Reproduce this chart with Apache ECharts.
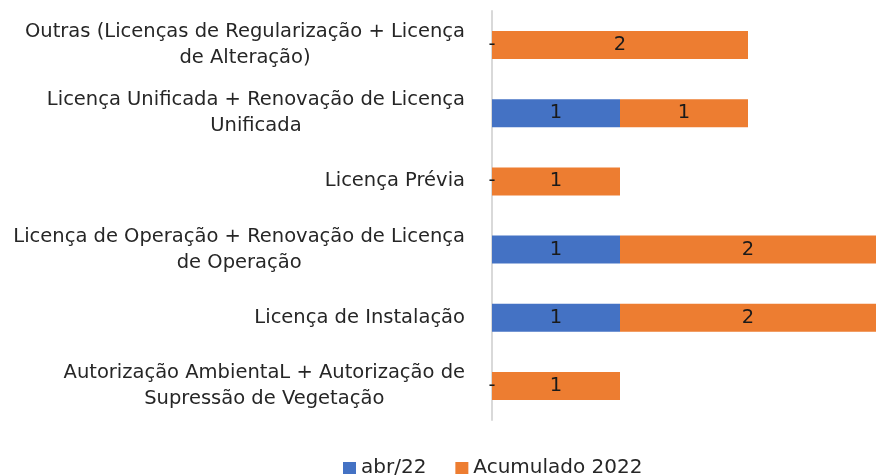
<!DOCTYPE html>
<html>
<head>
<meta charset="utf-8">
<script src="https://cdn.jsdelivr.net/npm/echarts@6/dist/echarts.min.js"></script>
<style>html,body{margin:0;padding:0;background:#fff;}#c{width:876px;height:475px;}</style>
</head>
<body>
<div id="c"></div>
<script>
var categories = [
  "Autorização AmbientaL + Autorização de\nSupressão de Vegetação",
  "Licença de Instalação",
  "Licença de Operação + Renovação de Licença\nde Operação",
  "Licença Prévia",
  "Licença Unificada + Renovação de Licença\nUnificada",
  "Outras (Licenças de Regularização + Licença\nde Alteração)"
];
var seriesNames = ["abr/22", "Acumulado 2022"];
var abr22 = [0, 1, 1, 0, 1, 0];
var acumulado2022 = [1, 2, 2, 1, 1, 2];

var FONT = "'DejaVu Sans', 'Noto Sans', sans-serif";
var FS = 19.5;
var chart = echarts.init(document.getElementById('c'), null, {renderer: 'canvas'});
function lbl(p) { return p.value === 0 ? '-' : String(p.value); }
chart.setOption({
  animation: false,
  backgroundColor: '#ffffff',
  grid: {left: 492, top: 11, width: 392, bottom: 55, containLabel: false},
  xAxis: {
    type: 'value', min: 0, max: 3, show: false
  },
  yAxis: {
    type: 'category',
    data: categories,
    axisLine: {show: true, lineStyle: {color: '#d9d9d9', width: 2}},
    axisTick: {show: false},
    axisLabel: {
      margin: 27,
      fontFamily: FONT, fontSize: FS, color: '#262626', lineHeight: 26,
      formatter: function (v) {
        return v.split('\n').map(function (s) { return '{c|' + s + '}'; }).join('\n');
      },
      rich: {c: {align: 'center', fontFamily: FONT, fontSize: FS, color: '#262626', lineHeight: 26}}
    }
  },
  legend: {
    left: 338, top: 453,
    itemWidth: 13, itemHeight: 12, itemGap: 29,
    icon: 'rect',
    textStyle: {fontFamily: FONT, fontSize: 20, color: '#262626', padding: [0, 0, 0, 0]},
    data: seriesNames
  },
  series: [
    {
      name: seriesNames[0], type: 'bar', stack: 'total', data: abr22,
      barWidth: 28, z: 3,
      itemStyle: {color: '#4472C4'},
      label: {show: true, position: 'inside', formatter: lbl, fontFamily: FONT, fontSize: FS, color: '#1a1a1a'}
    },
    {
      name: seriesNames[1], type: 'bar', stack: 'total', data: acumulado2022,
      barWidth: 28, z: 2,
      itemStyle: {color: '#ED7D31'},
      label: {show: true, position: 'inside', formatter: lbl, fontFamily: FONT, fontSize: FS, color: '#1a1a1a'}
    }
  ]
});
</script>
</body>
</html>
